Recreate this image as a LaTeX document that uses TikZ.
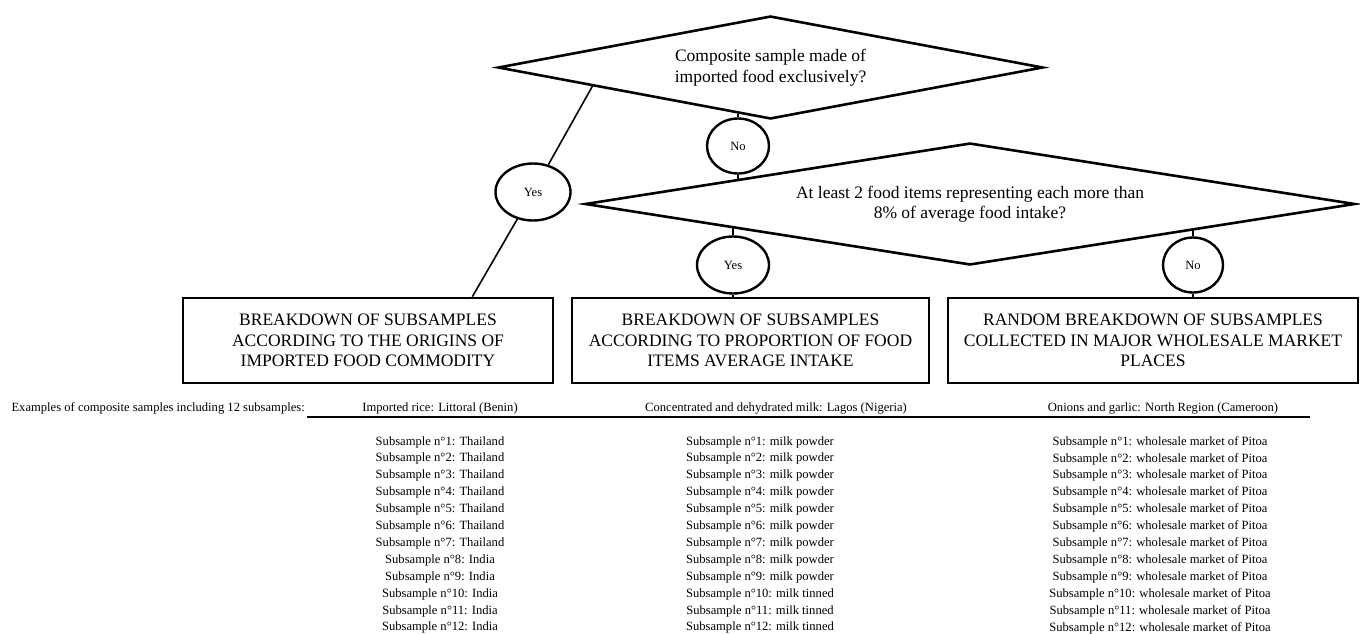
\documentclass[tikz,border=0pt]{standalone}
\usepackage{fontspec}
\setmainfont{Liberation Serif}
\usetikzlibrary{shapes.geometric,calc}
\tikzset{
  question/.style={diamond,draw,line width=2.6pt,align=center,inner sep=0pt,font=\fontsize{17.5}{20.5}\selectfont},
  answer/.style={ellipse,draw,line width=2.4pt,inner sep=0pt,font=\fontsize{12.6}{15}\selectfont},
  outcome/.style={rectangle,draw,line width=2.6pt,align=center,inner sep=0pt,minimum height=85pt,font=\fontsize{17.5}{20.5}\selectfont},
  link/.style={line width=1.6pt},
  smalltext/.style={inner sep=0pt,font=\fontsize{12.6}{15}\selectfont}
}
\begin{document}
\begin{tikzpicture}[x=1pt,y=-1pt]
  \useasboundingbox (0,0) rectangle (1360,633);
  % decisions
  \node[question,aspect=5.3,minimum width=545pt,minimum height=103pt] (imported) at (770.5,67.5) {Composite sample made of\\imported food exclusively?};
  \node[question,aspect=6.3,minimum width=770pt,minimum height=122pt] (share) at (970,204) {At least 2 food items representing each more than\\8\% of average food intake?};
  % answers
  \node[answer,minimum width=62pt,minimum height=55pt] (no1) at (738,146) {No};
  \node[answer,minimum width=75pt,minimum height=57pt] (yes1) at (533,192) {Yes};
  \node[answer,minimum width=72pt,minimum height=57pt] (yes2) at (733,265) {Yes};
  \node[answer,minimum width=60pt,minimum height=55pt] (no2) at (1193,265) {No};
  % outcomes
  \node[outcome,minimum width=370pt] (origin) at (368,340.5) {BREAKDOWN OF SUBSAMPLES\\ACCORDING TO THE ORIGINS OF\\IMPORTED FOOD COMMODITY};
  \node[outcome,minimum width=357pt] (intake) at (750.5,340.5) {BREAKDOWN OF SUBSAMPLES\\ACCORDING TO PROPORTION OF FOOD\\ITEMS AVERAGE INTAKE};
  \node[outcome,minimum width=410pt] (market) at (1153,340.5) {RANDOM BREAKDOWN OF SUBSAMPLES\\COLLECTED IN MAJOR WHOLESALE MARKET\\PLACES};
  % connectors
  \coordinate (yestop) at ($(imported.west)!0.35!(imported.south)$);
  \coordinate (yesfoot) at ($(origin.north west)!0.78!(origin.north east)$);
  \draw[link] (yestop) -- (yes1);
  \draw[link] (yes1) -- (yesfoot);
  \draw[link] (no1.north) -- (intersection of imported.west--imported.south and no1.north--no1.south);
  \draw[link] (no1.south) -- (intersection of share.west--share.north and no1.north--no1.south);
  \draw[link] (yes2.north) -- (intersection of share.west--share.south and yes2.north--yes2.south);
  \draw[link] (yes2.south) -- (yes2.south |- intake.north);
  \draw[link] (no2.north) -- (intersection of share.east--share.south and no2.north--no2.south);
  \draw[link] (no2.south) -- (no2.south |- market.north);
  % examples
  \node[smalltext,anchor=east] (examples) at (305,408) {Examples of composite samples including 12 subsamples:};
  \coordinate (rulestart) at (307,417);
  \coordinate (ruleend) at (1310,417);
  \draw[line width=2.2pt] (rulestart) -- (ruleend);
  \node[smalltext] (rice) at (440,408) {Imported rice: Littoral (Benin)};
  \node[smalltext] (milk) at (776,408) {Concentrated and dehydrated milk: Lagos (Nigeria)};
  \node[smalltext] (onion) at (1163,408) {Onions and garlic: North Region (Cameroon)};
  \foreach \i/\orig/\kind in {1/Thailand/powder,2/Thailand/powder,3/Thailand/powder,4/Thailand/powder,5/Thailand/powder,6/Thailand/powder,7/Thailand/powder,8/India/powder,9/India/powder,10/India/tinned,11/India/tinned,12/India/tinned}{
    \node[smalltext] (rice\i) at (440,{442+16.9*(\i-1)}) {Subsample n°\i: \orig};
    \node[smalltext] (milk\i) at (760,{442+16.9*(\i-1)}) {Subsample n°\i: milk \kind};
    \node[smalltext] (onion\i) at (1160,{442+16.9*(\i-1)}) {Subsample n°\i: wholesale market of Pitoa};
  }
\end{tikzpicture}
\end{document}
